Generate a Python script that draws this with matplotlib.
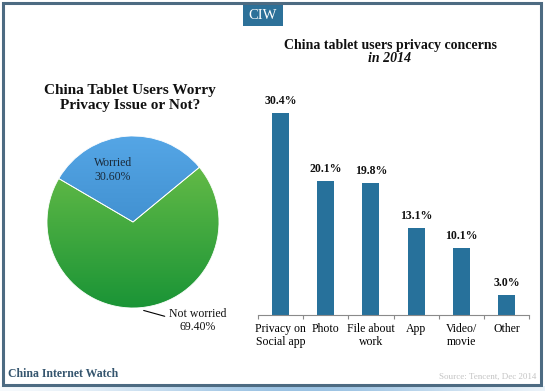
import matplotlib
matplotlib.use("Agg")
import matplotlib.pyplot as plt
import numpy as np
from matplotlib.patches import Rectangle

# ---- data ----
pie_labels = ["Worried", "Not worried"]
pie_values = [30.60, 69.40]
bar_categories = ["Privacy on\nSocial app", "Photo", "File about\nwork", "App", "Video/\nmovie", "Other"]
bar_values = [30.4, 20.1, 19.8, 13.1, 10.1, 3.0]

W, H = 545, 391
fig = plt.figure(figsize=(W / 100, H / 100), dpi=100)
fig.patch.set_facecolor("white")

def fx(px):
    return px / W

def fy(py):
    return 1 - py / H

SERIF = ["Liberation Serif", "DejaVu Serif"]

# ---- frame ----
fig.patches.append(Rectangle((fx(3), fy(385)), fx(538), 382 / H, transform=fig.transFigure,
                             fill=False, edgecolor="#4d6b82", lw=2.2, zorder=10))
# bottom gradient strip
gax = fig.add_axes([0, 0, 1, fy(386)])
grad = np.linspace(0, 1, 256)
prof = np.exp(-((grad - 0.55) / 0.35) ** 2)
cmap = matplotlib.colors.LinearSegmentedColormap.from_list("g", ["#ffffff", "#9cc3e3"])
gax.imshow(prof[None, :], aspect="auto", cmap=cmap, vmin=0, vmax=1, extent=[0, 1, 0, 1])
gax.axis("off")

# ---- CIW box ----
fig.patches.append(Rectangle((fx(243), fy(26)), fx(40), 21 / H, transform=fig.transFigure,
                             facecolor="#2d7199", edgecolor="none", zorder=5))
fig.text(fx(263), fy(15.5), "CIW", ha="center", va="center", color="white",
         fontsize=10.5, family=SERIF, zorder=6)

# ---- left title ----
fig.text(fx(130), fy(98), "China Tablet Users Worry\nPrivacy Issue or Not?", ha="center",
         va="center", fontsize=11, fontweight="bold", family=SERIF, linespacing=1.15,
         color="#111111")

# ---- pie ----
cx, cy, r = 133, 222, 86
box = 200
pax = fig.add_axes([fx(cx - box / 2), fy(cy + box / 2), box / W, box / H])
wedges, _ = pax.pie(pie_values, startangle=39.5, counterclock=True, radius=1,
                    colors=["#4a98dc", "#55b340"],
                    wedgeprops=dict(edgecolor="white", linewidth=0.6))
lim = (box / 2) / r
pax.set_xlim(-lim, lim)
pax.set_ylim(-lim, lim)
pax.set_aspect("auto")
pax.axis("off")
ys = np.linspace(1, 0, 256)[:, None] * np.ones((1, 2))
blue_cmap = matplotlib.colors.LinearSegmentedColormap.from_list("b", ["#2e7cbc", "#55a6e6"])
green_cmap = matplotlib.colors.LinearSegmentedColormap.from_list("gr", ["#1a9436", "#72c24a"])
for w, cm in zip(wedges, [blue_cmap, green_cmap]):
    im = pax.imshow(ys, cmap=cm, extent=[-1, 1, -1, 1], aspect="auto", zorder=1,
                    vmin=0, vmax=1)
    im.set_clip_path(w)
    w.set_zorder(2)
    w.set_facecolor("none")
pax.set_xlim(-lim, lim)
pax.set_ylim(-lim, lim)
pax.text(-0.233, 0.605, "Worried\n30.60%", ha="center", va="center", fontsize=8.5,
         family=SERIF, color="#1a2a3a", linespacing=1.15)
pax.annotate("", xy=(0.093, -1.02), xytext=(0.40, -1.105),
             arrowprops=dict(arrowstyle="-", color="black", lw=0.8))
pax.text(0.75, -1.145, "Not worried\n69.40%", ha="center", va="center", fontsize=8.5,
         family=SERIF, color="#111111", linespacing=1.15)

# ---- right title ----
fig.text(fx(390), fy(45), "China tablet users privacy concerns", ha="center", va="center",
         fontsize=10, fontweight="bold", family=SERIF, color="#111111")
fig.text(fx(390), fy(58), "in 2014", ha="center", va="center", fontsize=10,
         fontweight="bold", fontstyle="italic", family=SERIF, color="#111111")

# ---- bars ----
scale = 202 / 30.4
ytop = 32
ax_h = ytop * scale
bax = fig.add_axes([fx(258), fy(315), 271 / W, ax_h / H])
x = np.arange(len(bar_values))
bax.bar(x, bar_values, width=0.38, color="#27719b")
bax.set_xlim(-0.5, len(bar_values) - 0.5)
bax.set_ylim(0, ytop)
for xi, v in zip(x, bar_values):
    bax.text(xi, v + 0.9, f"{v:.1f}%", ha="center", va="bottom", fontsize=8.5,
             fontweight="bold", family=SERIF, color="#111111")
for s in ["top", "right", "left"]:
    bax.spines[s].set_visible(False)
bax.spines["bottom"].set_color("#8a8a8a")
bax.spines["bottom"].set_linewidth(0.8)
bax.set_yticks([])
bax.set_xticks(x)
bax.set_xticklabels(bar_categories, fontsize=8.5, family=SERIF, linespacing=1.05)
bax.tick_params(axis="x", which="major", length=0, pad=6)
bax.set_xticks(np.arange(-0.5, len(bar_values), 1), minor=True)
bax.tick_params(axis="x", which="minor", length=3, color="#8a8a8a", width=0.8)
bax.patch.set_alpha(0)

# ---- footer ----
fig.text(fx(8), fy(374), "China Internet Watch", ha="left", va="center", fontsize=8.5,
         fontweight="bold", family=SERIF, color="#35556e")
fig.text(fx(536), fy(377), "Source: Tencent, Dec 2014", ha="right", va="center",
         fontsize=6.5, family=SERIF, color="#c4c4c4")

fig.savefig("out.png", dpi=100, facecolor="white")
